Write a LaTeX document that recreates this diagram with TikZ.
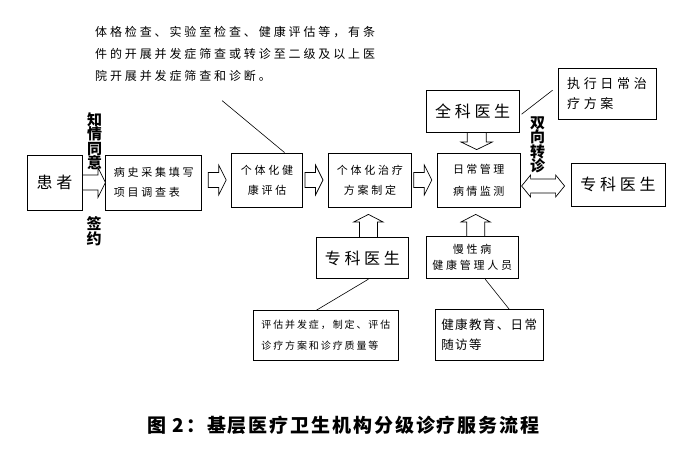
\documentclass[tikz,border=0pt]{standalone}
\usepackage{fontspec}
\usepackage{tikz}
\usetikzlibrary{positioning, calc}
\newfontfamily\cjk{Noto Sans CJK SC}
\newcommand{\zh}[3]{\cjk\fontsize{#1}{#2}\selectfont\addfontfeature{LetterSpace=#3}}
% flèche épaisse : départ, pointe, demi-corps, demi-tête
\newcommand{\fatarrow}[4]{%
  \coordinate (fa-s) at (#1);
  \coordinate (fa-t) at (#2);
  \coordinate (fa-b) at ($(fa-t)!7.5pt!(fa-s)$);
  \path[fat] ($(fa-s)!#3!90:(fa-t)$) -- ($(fa-b)!#3!-90:(fa-s)$) -- ($(fa-b)!#4!-90:(fa-s)$) -- (fa-t)
    -- ($(fa-b)!#4!90:(fa-s)$) -- ($(fa-b)!#3!90:(fa-s)$) -- ($(fa-s)!#3!-90:(fa-t)$) -- cycle;}
\begin{document}
\begin{tikzpicture}[x=1pt, y=-1pt]
% styles
    \tikzstyle{box} = [rectangle, draw, line width=0.8pt, inner sep=0pt, align=left, font=\zh{11}{20}{25}]
    \tikzstyle{bigbox} = [rectangle, draw, line width=0.8pt, inner sep=0pt, font=\zh{16}{18}{23}]
    \tikzstyle{note} = [anchor=north west, inner sep=0pt, align=left, font=\zh{12}{22}{24}]
    \tikzstyle{vlabel} = [align=center, inner sep=0pt, font=\cjk\bfseries\fontsize{15}{14.5}\selectfont]
    \tikzstyle{fat} = [draw, fill=white, line width=0.7pt, line join=miter]
    \tikzstyle{line} = [draw, line width=0.6pt]

    \fill[white] (0,0) rectangle (684,457);
    \useasboundingbox (0,0) rectangle (684,457);

    % ligne principale
    \node [bigbox, minimum width=55pt, minimum height=55pt] (patient) at (54.5,182.5) {患者};
    \node [box, minimum width=96pt, minimum height=55pt, right=23pt of patient] (history) {病史采集填写\\项目调查表};
    \node [box, align=center, minimum width=71pt, minimum height=54pt, right=29pt of history, yshift=2.5pt] (assess) {个体化健\\康评估};
    \node [box, align=center, minimum width=83pt, minimum height=54pt, right=25pt of assess] (plan) {个体化治疗\\方案制定};
    \node [box, minimum width=83pt, minimum height=54pt, right=25pt of plan, font=\zh{11}{22}{22}] (daily) {日常管理\\病情监测};
    \node [bigbox, minimum width=94pt, minimum height=43pt, right=50pt of daily, yshift=-4.5pt] (spec) {专科医生};

    % au-dessus
    \node [bigbox, minimum width=93pt, minimum height=42pt, above=20pt of daily, xshift=-6pt] (gp) {全科医生};
    \node [box, minimum width=98pt, minimum height=51pt, right=38pt of gp, yshift=17.5pt, font=\zh{13}{20}{28}] (exec) {执行日常治\\疗方案};
    \node [note] (note) at (95,26) {体格检查、实验室检查、健康评估等，有条\\件的开展并发症筛查或转诊至二级及以上医\\院开展并发症筛查和诊断。};

    % en dessous
    \node [bigbox, minimum width=92pt, minimum height=41pt, below=30pt of plan, xshift=-7.5pt] (spec2) {专科医生};
    \node [box, align=center, minimum width=92pt, minimum height=42pt, below=29pt of daily, xshift=-6.5pt, font=\zh{11}{16}{25}] (chronic) {慢性病\\健康管理人员};
    \node [box, minimum width=145pt, minimum height=50pt, below=31pt of spec2, xshift=-36.5pt, font=\zh{10}{21}{19}] (eval) {评估并发症，制定、评估\\诊疗方案和诊疗质量等};
    \node [box, minimum width=108pt, minimum height=51pt, below=30pt of chronic, xshift=17pt, font=\zh{12.5}{20}{11}] (edu) {健康教育、日常\\随访等};

    % étiquettes verticales
    \node [vlabel] (consent) at (94.5,141) {知\\情\\同\\意};
    \node [vlabel] (sign) at (94,231) {签\\约};
    \node [vlabel] (referral) at (537.5,145) {双\\向\\转\\诊};

    % flèches épaisses
    \fatarrow{patient.east}{history.west}{7.5pt}{15pt}
    \fatarrow{$(history.east |- assess.west)+(6pt,0)$}{$(assess.west)+(-5pt,0)$}{7.5pt}{15pt}
    \fatarrow{$(assess.east)+(2pt,0)$}{$(plan.west)+(-5pt,0)$}{7.5pt}{15pt}
    \fatarrow{$(plan.east)+(2pt,0)$}{$(daily.west)+(-5pt,0)$}{7.5pt}{15pt}
    \fatarrow{$(gp.south -| daily.north)+(-2pt,0)$}{$(daily.north)+(-2pt,3pt)$}{9.5pt}{15.5pt}
    \fatarrow{$(spec2.north -| plan.south)+(-1.5pt,0)$}{$(plan.south)+(-1.5pt,-7pt)$}{9pt}{14.5pt}
    \fatarrow{$(chronic.north -| daily.south)+(-3pt,0)$}{$(daily.south)+(-3pt,-7pt)$}{9pt}{14.5pt}
    \path[fat] let \p1=(daily.east), \p2=(spec.west) in
        (\x1+1pt,\y1-6pt) -- (\x1+10pt,\y1+5pt) -- (\x1+10pt,\y1+1pt) -- (\x2-15pt,\y1+1pt) -- (\x2-15pt,\y1+5pt)
        -- (\x2-6pt,\y1-6pt) -- (\x2-15pt,\y1-17pt) -- (\x2-15pt,\y1-13pt) -- (\x1+10pt,\y1-13pt) -- (\x1+10pt,\y1-17pt) -- cycle;

    % traits fins
    \path [line] ($(note.south)+(-13pt,-19pt)$) -- ($(assess.north)+(17.5pt,0)$);
    \path [line] ($(gp.east)+(2pt,-3pt)$) -- ($(exec.west)+(-5pt,3.5pt)$);
    \path [line] ($(spec2.south)+(6pt,0)$) -- ($(eval.north)+(-9.5pt,0)$);
    \path [line] ($(chronic.south)+(13pt,0)$) -- ($(edu.north)+(20pt,0)$);

    % légende
    \node [font=\cjk\bfseries\fontsize{19}{19}\selectfont\addfontfeature{LetterSpace=10}] (caption) at (343.5,425) {图 2：基层医疗卫生机构分级诊疗服务流程};
\end{tikzpicture}
\end{document}
